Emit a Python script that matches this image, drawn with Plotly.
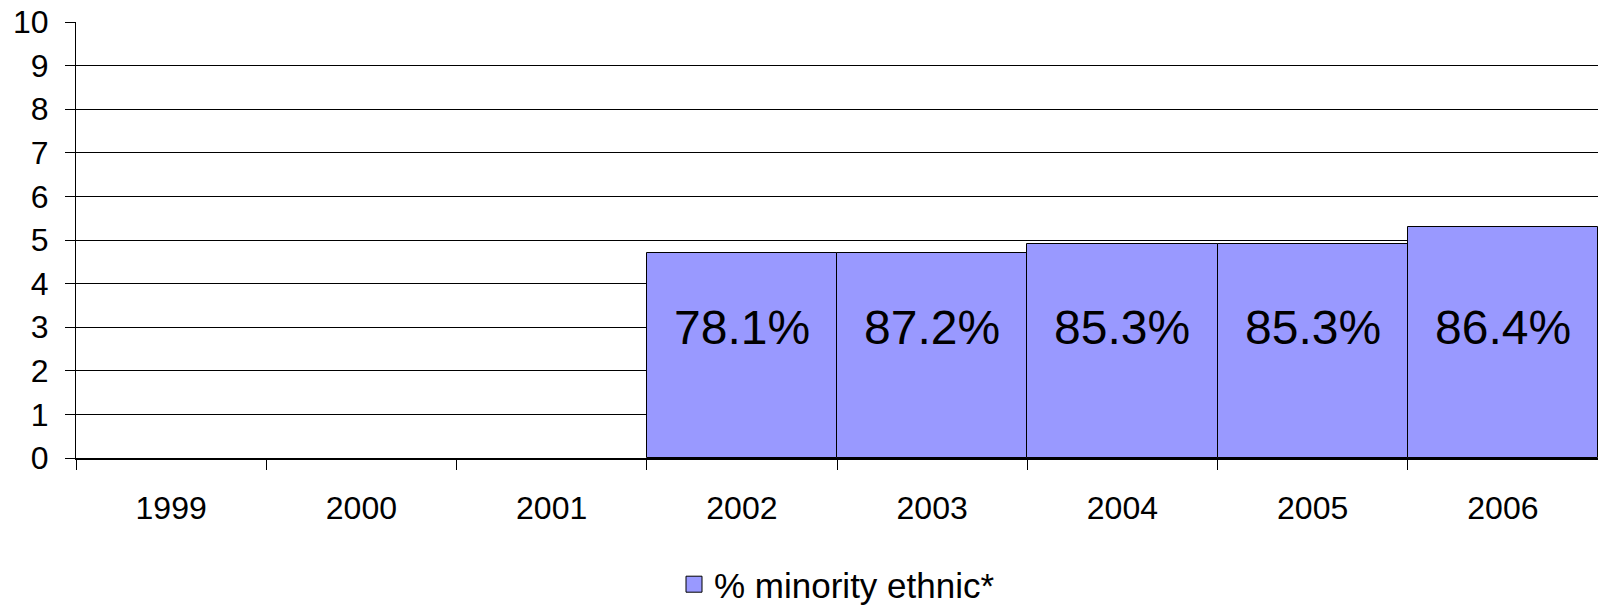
import plotly.graph_objects as go

years = ["1999", "2000", "2001", "2002", "2003", "2004", "2005", "2006"]
values = [None, None, None, 4.7, 4.7, 4.9, 4.9, 5.3]
labels = ["", "", "", "78.1%", "87.2%", "85.3%", "85.3%", "86.4%"]
series_name = "% minority ethnic*"
y_ticks = [0, 1, 2, 3, 4, 5, 6, 7, 8, 9, 10]
label_y = 3.0

FONT = "Liberation Sans, Arial, sans-serif"
BAR_COLOR = "#9999FF"

fig = go.Figure()
fig.add_trace(go.Bar(
    x=years, y=values, name=series_name,
    marker=dict(color=BAR_COLOR, line=dict(color="#000000", width=1)),
    showlegend=False,
))
# legend-only entry with a larger square swatch
fig.add_trace(go.Scatter(
    x=[None], y=[None], mode="markers", name=series_name,
    marker=dict(symbol="square", size=16, color=BAR_COLOR,
                line=dict(color="#000000", width=1)),
    showlegend=True, hoverinfo="skip",
))

for i, lab in enumerate(labels):
    if lab:
        fig.add_annotation(x=i, y=label_y, text=lab, showarrow=False,
                           font=dict(family=FONT, size=48, color="#000000"),
                           xanchor="center", yanchor="middle")

fig.update_layout(
    width=1598, height=607,
    margin=dict(l=76, r=0, t=22, b=149, autoexpand=False),
    paper_bgcolor="white", plot_bgcolor="white",
    bargap=0,
    font=dict(family=FONT, color="#000000"),
    showlegend=True,
    legend=dict(orientation="h", x=0.5, xanchor="center", y=-0.29, yanchor="middle",
                itemsizing="trace", itemwidth=30,
                font=dict(family=FONT, size=35, color="#000000")),
)
fig.update_xaxes(
    type="category", categoryorder="array", categoryarray=years,
    range=[-0.5, len(years) - 0.5], automargin=False, tickangle=0,
    showline=True, linecolor="#000000", linewidth=2,
    ticks="outside", tickson="boundaries", ticklen=10, tickcolor="#000000", tickwidth=1,
    showgrid=False, tickfont=dict(family=FONT, size=32, color="#000000"),
    ticklabelstandoff=21, ticklabeloverflow="allow",
)
fig.update_yaxes(
    range=[0, 10], tickvals=y_ticks, automargin=False,
    showline=True, linecolor="#000000", linewidth=1,
    ticks="outside", ticklen=10, tickcolor="#000000",
    showgrid=True, gridcolor="#000000", gridwidth=1, zeroline=False,
    tickfont=dict(family=FONT, size=32, color="#000000"),
    ticklabelstandoff=10, ticklabeloverflow="allow",
)

fig.write_html("out.html", config={"displayModeBar": False},
               post_script="document.body.style.margin='0';document.body.style.overflow='hidden';")
